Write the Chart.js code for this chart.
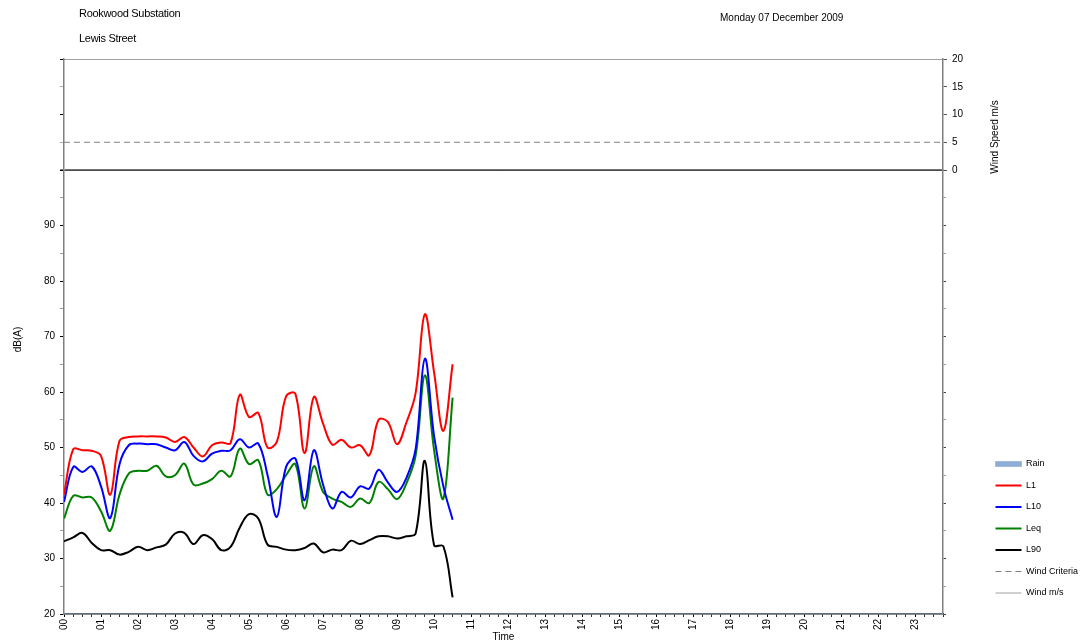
<!DOCTYPE html>
<html>
<head>
<meta charset="utf-8">
<title>Rookwood Substation - Lewis Street</title>
<script src="https://cdn.jsdelivr.net/npm/chart.js@4/dist/chart.umd.min.js"></script>
<style>
  html, body { margin: 0; padding: 0; background: #fff; }
  #wrap { position: relative; width: 1081px; height: 643px; overflow: hidden; }
  #chart { position: absolute; left: 0; top: 0; }
  .hdr { position: absolute; font-family: "Liberation Sans", Arial, sans-serif; color: #000;
         white-space: nowrap; line-height: 1; }
</style>
</head>
<body>
<div id="wrap">
  <canvas id="chart" width="1081" height="643"></canvas>
  <div class="hdr" style="left:79px; top:8px; font-size:11px; letter-spacing:-0.3px;">Rookwood Substation</div>
  <div class="hdr" style="left:79px; top:33px; font-size:11px; letter-spacing:-0.3px;">Lewis Street</div>
  <div class="hdr" style="left:720px; top:13px; font-size:10px;">Monday 07 December 2009</div>
</div>
<script>
// 15-minute logger intervals recorded so far today
const timeLabels = ['00:00','00:15','00:30','00:45','01:00','01:15','01:30','01:45',
  '02:00','02:15','02:30','02:45','03:00','03:15','03:30','03:45',
  '04:00','04:15','04:30','04:45','05:00','05:15','05:30','05:45',
  '06:00','06:15','06:30','06:45','07:00','07:15','07:30','07:45',
  '08:00','08:15','08:30','08:45','09:00','09:15','09:30','09:45',
  '10:00','10:15','10:30'];

// Noise levels, dB(A)
const L1 = [41.5, 49.7, 49.5, 49.4, 48.5, 41.5, 51.2, 51.9, 52.0, 52.0,
  52.0, 51.8, 51.0, 51.9, 50.0, 48.4, 50.4, 50.9, 50.8, 59.5,
  55.5, 56.2, 50.0, 51.0, 59.2, 59.7, 49.0, 59.1, 54.3, 50.5,
  51.4, 50.0, 50.4, 48.6, 55.0, 54.6, 50.6, 54.5, 59.8, 74.0,
  63.5, 53.0, 65.0];
const L10 = [40.2, 46.5, 45.6, 46.6, 43.0, 37.3, 47.0, 50.4, 50.7, 50.6,
  50.6, 50.0, 49.5, 51.0, 48.5, 47.5, 48.9, 49.4, 49.5, 51.5,
  50.0, 50.7, 45.0, 37.5, 46.5, 48.0, 40.5, 49.5, 43.3, 39.0,
  42.0, 41.0, 43.0, 42.6, 46.0, 43.7, 42.0, 44.5, 49.7, 66.0,
  52.0, 43.0, 37.0];
const Leq = [37.2, 41.3, 41.0, 41.0, 38.5, 35.0, 41.5, 45.3, 45.8, 45.8,
  46.7, 44.8, 45.0, 47.1, 43.3, 43.5, 44.3, 45.8, 44.8, 49.8,
  47.0, 47.7, 41.5, 42.5, 45.0, 47.0, 39.0, 46.6, 42.0, 40.8,
  40.2, 39.3, 40.8, 40.0, 43.8, 42.5, 40.7, 43.5, 48.5, 63.0,
  49.5, 40.8, 59.0];
const L90 = [33.1, 33.8, 34.6, 32.8, 31.5, 31.5, 30.7, 31.2, 32.1, 31.5,
  32.0, 32.5, 34.5, 34.6, 32.6, 34.2, 33.5, 31.5, 32.1, 35.6,
  38.0, 37.2, 32.5, 32.1, 31.6, 31.5, 31.9, 32.7, 31.1, 31.6,
  31.5, 33.2, 32.6, 33.3, 34.0, 34.0, 33.6, 34.0, 34.5, 47.6,
  32.4, 32.2, 23.0];

// Weather channels across the whole day (flat)
const dayEnds = ['00:00', '23:45'];
const rain = [0, 0];
const windCriteria = [5, 5];
const windSpeed = [0, 0];

// Hour tick labels along the time axis
const hourLabels = ['00','01','02','03','04','05','06','07','08','09','10','11',
  '12','13','14','15','16','17','18','19','20','21','22','23'];

const FONT = "'Liberation Sans', Arial, sans-serif";
Chart.defaults.font.family = FONT;
Chart.defaults.font.size = 10;
Chart.defaults.color = '#000';

const toHours = s => { const [h, m] = s.split(':').map(Number); return h + m / 60; };
const series = (times, vals) => vals.map((v, i) => ({ x: toHours(times[i]), y: v }));
const dayStart = toHours(dayEnds[0]);
const dayEnd = toHours(dayEnds[1]);

function levelSet(label, vals, color) {
  return {
    label, data: series(timeLabels, vals), yAxisID: 'yDb',
    borderColor: color, backgroundColor: color, borderWidth: 2,
    pointRadius: 0, pointBorderWidth: 2, pointStyle: 'line',
    tension: 0.38, fill: false
  };
}

// Axis titles that sit beside the two vertical axes
const sideTitles = {
  id: 'sideTitles',
  afterLayout(chart) {
    // lift the key slightly above the bottom of the plot
    if (chart.legend) { chart.legend.top -= 4; chart.legend.bottom -= 4; }
  },
  afterDraw(chart) {
    const { ctx, chartArea } = chart;
    const wR = chart.scales.wR;
    ctx.save();
    ctx.font = '10px ' + FONT;
    ctx.fillStyle = '#000';
    ctx.textAlign = 'center';
    ctx.textBaseline = 'middle';
    ctx.save();
    ctx.translate(18, (chartArea.top + chartArea.bottom) / 2 + 3);
    ctx.rotate(-Math.PI / 2);
    ctx.fillText('dB(A)', 0, 0);
    ctx.restore();
    ctx.save();
    ctx.translate(wR.right + 12, wR.bottom - 33);
    ctx.rotate(-Math.PI / 2);
    ctx.fillText('Wind Speed m/s', 0, 0);
    ctx.restore();
    ctx.restore();
  }
};

const AXIS_GREY = '#808080';

new Chart(document.getElementById('chart'), {
  type: 'line',
  data: {
    datasets: [
      { label: 'Rain', data: series(dayEnds, rain), yAxisID: 'yRain',
        borderColor: '#9fbde0', backgroundColor: '#8eaed6', borderWidth: 1,
        pointRadius: 0, pointBorderWidth: 1, pointStyle: 'rect', tension: 0 },
      levelSet('L1', L1, '#ff0000'),
      levelSet('L10', L10, '#0000ff'),
      levelSet('Leq', Leq, '#008000'),
      levelSet('L90', L90, '#000000'),
      { label: 'Wind Criteria', data: series(dayEnds, windCriteria), yAxisID: 'wR',
        borderColor: '#808080', backgroundColor: '#808080', borderWidth: 1,
        borderDash: [6, 4], pointRadius: 0, pointBorderWidth: 1, pointStyle: 'line', tension: 0 },
      { label: 'Wind m/s', data: series(dayEnds, windSpeed), yAxisID: 'wR',
        borderColor: '#a0a0a0', backgroundColor: '#a0a0a0', borderWidth: 1,
        pointRadius: 0, pointBorderWidth: 1, pointStyle: 'line', tension: 0 }
    ]
  },
  options: {
    responsive: false,
    animation: false,
    devicePixelRatio: 1,
    events: [],
    layout: { padding: { top: 59, right: 0, bottom: 0, left: 0 } },
    plugins: {
      tooltip: { enabled: false },
      legend: {
        position: 'right',
        align: 'end',
        fullSize: false,
        maxWidth: 98,
        labels: {
          color: '#000',
          font: { size: 9 },
          usePointStyle: true,
          pointStyleWidth: 26,
          boxHeight: 5,
          padding: 12.5,
          generateLabels(chart) {
            const items = Chart.defaults.plugins.legend.labels.generateLabels(chart);
            items.forEach(it => {
              const ds = chart.data.datasets[it.datasetIndex];
              it.lineDash = ds.borderDash || [];
            });
            return items;
          }
        }
      }
    },
    scales: {
      x: {
        type: 'linear', position: 'bottom',
        min: dayStart, max: dayEnd,
        border: { color: '#1a1a1a', width: 1.5 },
        grid: { drawOnChartArea: false, tickLength: 3, tickWidth: 1,
                tickColor: c => Number.isInteger(c.tick.value) ? '#000' : '#333' },
        ticks: { stepSize: 0.25, autoSkip: false, minRotation: 90, maxRotation: 90,
                 padding: 2, font: { size: 10 },
                 callback: v => Number.isInteger(v) && v < hourLabels.length ? hourLabels[v] : '' },
        title: { display: true, text: 'Time', font: { size: 10 }, padding: 0 },
        afterFit: s => { s.height = 29; }
      },
      // lower panel: noise levels
      yDb: {
        type: 'linear', position: 'left', stack: 'leftPanels', stackWeight: 4, weight: 1,
        min: 20, max: 100, z: 1,
        border: { color: AXIS_GREY, width: 1.5 },
        grid: {
          drawOnChartArea: true,
          color: c => c.tick && c.tick.value === 100 ? '#4a4a4a' : 'rgba(0,0,0,0)',
          lineWidth: c => c.tick && c.tick.value === 100 ? 2 : 1,
          tickLength: 4, tickWidth: 1,
          tickColor: c => c.tick.value % 10 === 0 ? '#000' : '#999'
        },
        ticks: { stepSize: 5, autoSkip: false, padding: 5, font: { size: 10 },
                 callback: v => (v % 10 === 0 && v < 100) ? String(v) : '' },
        afterFit: s => { s.width = 64; }
      },
      // upper panel: wind (left side, marks only)
      wL: {
        type: 'linear', position: 'left', stack: 'leftPanels', stackWeight: 1, weight: 2,
        min: 0, max: 20,
        border: { color: AXIS_GREY, width: 1.5 },
        grid: { drawOnChartArea: false, tickLength: 4, tickWidth: 1,
                tickColor: c => c.tick.value % 10 === 0 ? '#000' : '#aaa' },
        ticks: { stepSize: 5, autoSkip: false, callback: () => '' },
        afterFit: s => { s.width = 64; }
      },
      // upper panel: wind speed scale
      wR: {
        type: 'linear', position: 'right', stack: 'rightPanels', stackWeight: 1, weight: 1,
        min: 0, max: 20,
        border: { color: AXIS_GREY, width: 1.5 },
        grid: {
          drawOnChartArea: true,
          color: c => c.tick && c.tick.value === 20 ? '#a0a0a0' : 'rgba(0,0,0,0)',
          tickLength: 4, tickWidth: 1, tickColor: '#555'
        },
        ticks: { stepSize: 5, autoSkip: false, padding: 5, font: { size: 10 } },
        afterFit: s => { s.width = 40; }
      },
      // lower panel: right side, marks only
      dbR: {
        type: 'linear', position: 'right', stack: 'rightPanels', stackWeight: 4, weight: 2,
        min: 20, max: 100,
        border: { color: AXIS_GREY, width: 1.5 },
        grid: { drawOnChartArea: false, tickLength: 3, tickWidth: 1,
                tickColor: c => c.tick.value % 10 === 0 ? '#444' : '#999' },
        ticks: { stepSize: 5, autoSkip: false, callback: () => '' },
        afterFit: s => { s.width = 40; }
      },
      yRain: {
        type: 'linear', position: 'left', display: false, min: 0, max: 10
      }
    }
  },
  plugins: [sideTitles]
});
</script>
</body>
</html>
